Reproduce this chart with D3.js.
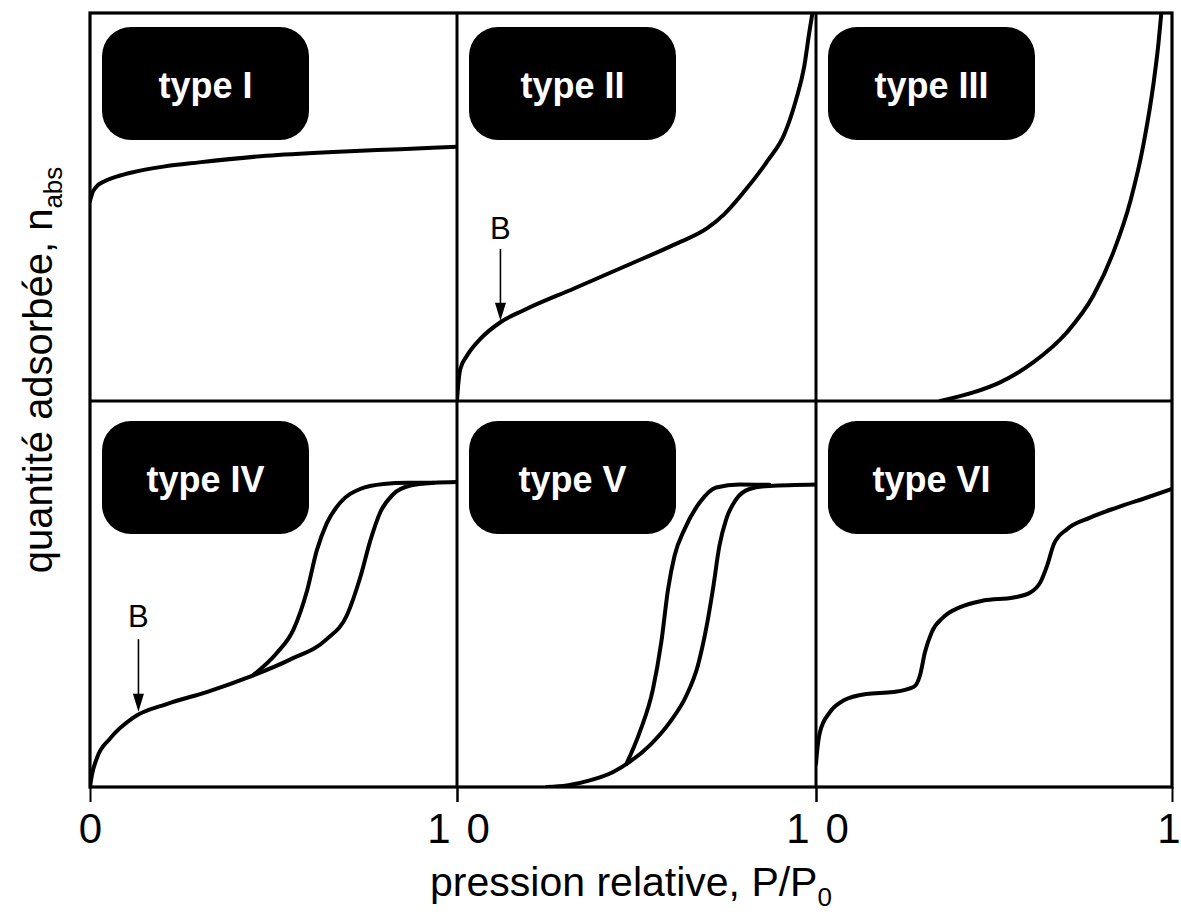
<!DOCTYPE html>
<html>
<head>
<meta charset="utf-8">
<script src="https://cdn.jsdelivr.net/npm/d3@7"></script>
<style>
  body { margin: 0; background: #fff; }
  text { font-family: "Liberation Sans", Arial, Helvetica, sans-serif; }
</style>
</head>
<body>
<svg id="chart" width="1181" height="916"></svg>
<script>
// IUPAC isotherm types: relative pressure P/P0 (0..1) vs normalised amount adsorbed (0..1)
const panelNames = ["type I", "type II", "type III", "type IV", "type V", "type VI"];
const tickValues = [0, 1];

const typeI = [[0,0.515],[0.006,0.535],[0.016,0.551],[0.041,0.567],[0.075,0.579],[0.114,0.589],
  [0.2,0.604],[0.297,0.615],[0.48,0.632],[0.663,0.642],[0.846,0.649],[1,0.655]];

const typeII = [[0,0],[0.002,0.026],[0.009,0.082],[0.028,0.117],[0.065,0.16],[0.121,0.203],
  [0.186,0.234],[0.326,0.29],[0.465,0.346],[0.605,0.403],[0.698,0.446],[0.744,0.481],
  [0.809,0.55],[0.865,0.619],[0.912,0.688],[0.944,0.775],[0.967,0.861],[0.981,0.948],[0.99,1.0]];

const typeIII = [[0.349,0],[0.442,0.022],[0.517,0.048],[0.611,0.1],[0.705,0.177],[0.78,0.273],
  [0.836,0.385],[0.883,0.515],[0.92,0.662],[0.948,0.818],[0.962,0.922],[0.97,1.0]];

const typeIVadsorption = [[0,0],[0.005,0.03],[0.018,0.073],[0.055,0.126],[0.118,0.18],[0.209,0.215],
  [0.318,0.246],[0.436,0.286],[0.545,0.33],[0.645,0.383],[0.70,0.445],[0.736,0.542],[0.764,0.639],
  [0.79,0.71],[0.827,0.759],[0.873,0.781],[0.936,0.788],[1,0.79]];
const typeIVdesorption = [[0.445,0.29],[0.509,0.347],[0.555,0.409],[0.591,0.507],[0.618,0.613],
  [0.645,0.683],[0.682,0.737],[0.736,0.772],[0.8,0.785],[0.864,0.788],[0.936,0.788]];

const typeVadsorption = [[0.25,0],[0.306,0.004],[0.37,0.017],[0.435,0.039],[0.481,0.065],[0.537,0.108],
  [0.593,0.168],[0.639,0.237],[0.671,0.315],[0.694,0.41],[0.713,0.513],[0.731,0.625],[0.75,0.694],
  [0.778,0.746],[0.815,0.772],[0.87,0.78],[1,0.784]];
const typeVdesorption = [[0.472,0.06],[0.509,0.142],[0.546,0.254],[0.569,0.375],[0.588,0.513],
  [0.606,0.599],[0.634,0.668],[0.676,0.737],[0.722,0.776],[0.787,0.784],[0.87,0.783]];

const typeVI = [[0,0.06],[0.002,0.082],[0.011,0.142],[0.039,0.194],[0.077,0.224],[0.142,0.241],
  [0.217,0.246],[0.274,0.259],[0.292,0.289],[0.306,0.349],[0.325,0.401],[0.358,0.44],[0.405,0.466],
  [0.47,0.483],[0.555,0.491],[0.602,0.504],[0.63,0.53],[0.649,0.573],[0.668,0.629],[0.705,0.668],
  [0.77,0.698],[0.845,0.724],[0.93,0.75],[1,0.772]];

const panelCurves = [
  [typeI], [typeII], [typeIII],
  [typeIVadsorption, typeIVdesorption],
  [typeVadsorption, typeVdesorption],
  [typeVI]
];

// point B (start of multilayer adsorption): panel index, P/P0, arrow tip, arrow tail, label height
const bPanels = [1, 3];
const bX = [0.121, 0.132];
const bTip = [0.207, 0.195];
const bTail = [0.392, 0.383];
const bLabel = [0.445, 0.443];

// ---- layout ----
const colEdges = [90, 457, 816, 1172];
const rowEdges = [13, 401, 787];

const svg = d3.select("#chart");

const xScales = d3.range(3).map(c => d3.scaleLinear().domain([0, 1]).range([colEdges[c], colEdges[c + 1]]));
const yScales = d3.range(2).map(r => d3.scaleLinear().domain([0, 1]).range([rowEdges[r + 1], rowEdges[r]]));

const defs = svg.append("defs");

panelNames.forEach((name, i) => {
  const col = i % 3, row = Math.floor(i / 3);
  const x = xScales[col], y = yScales[row];

  defs.append("clipPath").attr("id", "clip" + i)
    .append("rect")
    .attr("x", x(0)).attr("y", y(1))
    .attr("width", x(1) - x(0)).attr("height", y(0) - y(1));

  const line = d3.line()
    .x(d => x(d[0])).y(d => y(d[1]))
    .curve(d3.curveMonotoneX);

  const g = svg.append("g").attr("clip-path", `url(#clip${i})`);
  g.selectAll("path.curve")
    .data(panelCurves[i])
    .join("path")
    .attr("class", "curve")
    .attr("d", line)
    .attr("fill", "none")
    .attr("stroke", "#000")
    .attr("stroke-width", 4)
    .attr("stroke-linejoin", "round")
    .attr("stroke-linecap", "round");

  // rounded black label box
  const bx = x(0) + 12, by = y(1) + (row === 0 ? 14 : 20);
  const bw = 207, bh = 113;
  svg.append("rect")
    .attr("x", bx).attr("y", by)
    .attr("width", bw).attr("height", bh)
    .attr("rx", 29).attr("ry", 29)
    .attr("fill", "#000");
  svg.append("text")
    .attr("x", bx + bw / 2).attr("y", by + bh / 2 + 14)
    .attr("text-anchor", "middle")
    .attr("font-size", 36)
    .attr("font-weight", "bold")
    .attr("fill", "#fff")
    .text(name);
});

// B markers with arrows
bPanels.forEach((p, k) => {
  const x = xScales[p % 3], y = yScales[Math.floor(p / 3)];
  const px = x(bX[k]);
  const tipY = y(bTip[k]), tailY = y(bTail[k]);
  svg.append("line")
    .attr("x1", px).attr("x2", px)
    .attr("y1", tailY).attr("y2", tipY - 12)
    .attr("stroke", "#000").attr("stroke-width", 1.6);
  svg.append("path")
    .attr("d", `M${px - 5.5},${tipY - 18} L${px + 5.5},${tipY - 18} L${px},${tipY} Z`)
    .attr("fill", "#000");
  svg.append("text")
    .attr("x", px).attr("y", y(bLabel[k]) + 11)
    .attr("text-anchor", "middle")
    .attr("font-size", 31)
    .attr("fill", "#000")
    .text("B");
});

// frame and dividers
svg.append("rect")
  .attr("x", colEdges[0]).attr("y", rowEdges[0])
  .attr("width", colEdges[3] - colEdges[0]).attr("height", rowEdges[2] - rowEdges[0])
  .attr("fill", "none").attr("stroke", "#000").attr("stroke-width", 3.2);
[colEdges[1], colEdges[2]].forEach(cx => {
  svg.append("line").attr("x1", cx).attr("x2", cx)
    .attr("y1", rowEdges[0]).attr("y2", rowEdges[2])
    .attr("stroke", "#000").attr("stroke-width", 3);
});
svg.append("line").attr("x1", colEdges[0]).attr("x2", colEdges[3])
  .attr("y1", rowEdges[1]).attr("y2", rowEdges[1])
  .attr("stroke", "#000").attr("stroke-width", 3);

// x axes, one per column
xScales.forEach((x, c) => {
  const ax = svg.append("g")
    .attr("transform", `translate(0,${rowEdges[2]})`)
    .call(d3.axisBottom(x).tickValues(tickValues).tickSize(15).tickPadding(11).tickFormat(d3.format("d")));
  ax.select(".domain").remove();
  ax.selectAll(".tick line").attr("stroke", "#000").attr("stroke-width", 2);
  ax.selectAll(".tick text")
    .attr("font-size", 42)
    .attr("fill", "#000")
    .attr("font-family", "Liberation Sans, Arial, sans-serif")
    .each(function (d) {
      const t = d3.select(this);
      if (d === 1 && c < 2) t.attr("text-anchor", "end").attr("dx", -7);
      if (d === 1 && c === 2) t.attr("text-anchor", "end").attr("dx", 8);
      if (d === 0 && c > 0) t.attr("text-anchor", "start").attr("dx", 9);
    });
});

// axis titles
const xTitle = svg.append("text")
  .attr("x", (colEdges[0] + colEdges[3]) / 2)
  .attr("y", 896)
  .attr("text-anchor", "middle")
  .attr("font-size", 41)
  .attr("fill", "#000");
xTitle.append("tspan").text("pression relative, P/P");
xTitle.append("tspan").attr("font-size", 26).attr("dy", 10).text("0");

const yTitle = svg.append("text")
  .attr("transform", `translate(52,370) rotate(-90)`)
  .attr("text-anchor", "middle")
  .attr("font-size", 40)
  .attr("fill", "#000");
yTitle.append("tspan").text("quantité adsorbée, n");
yTitle.append("tspan").attr("font-size", 26).attr("dy", 10).text("abs");
</script>
</body>
</html>
